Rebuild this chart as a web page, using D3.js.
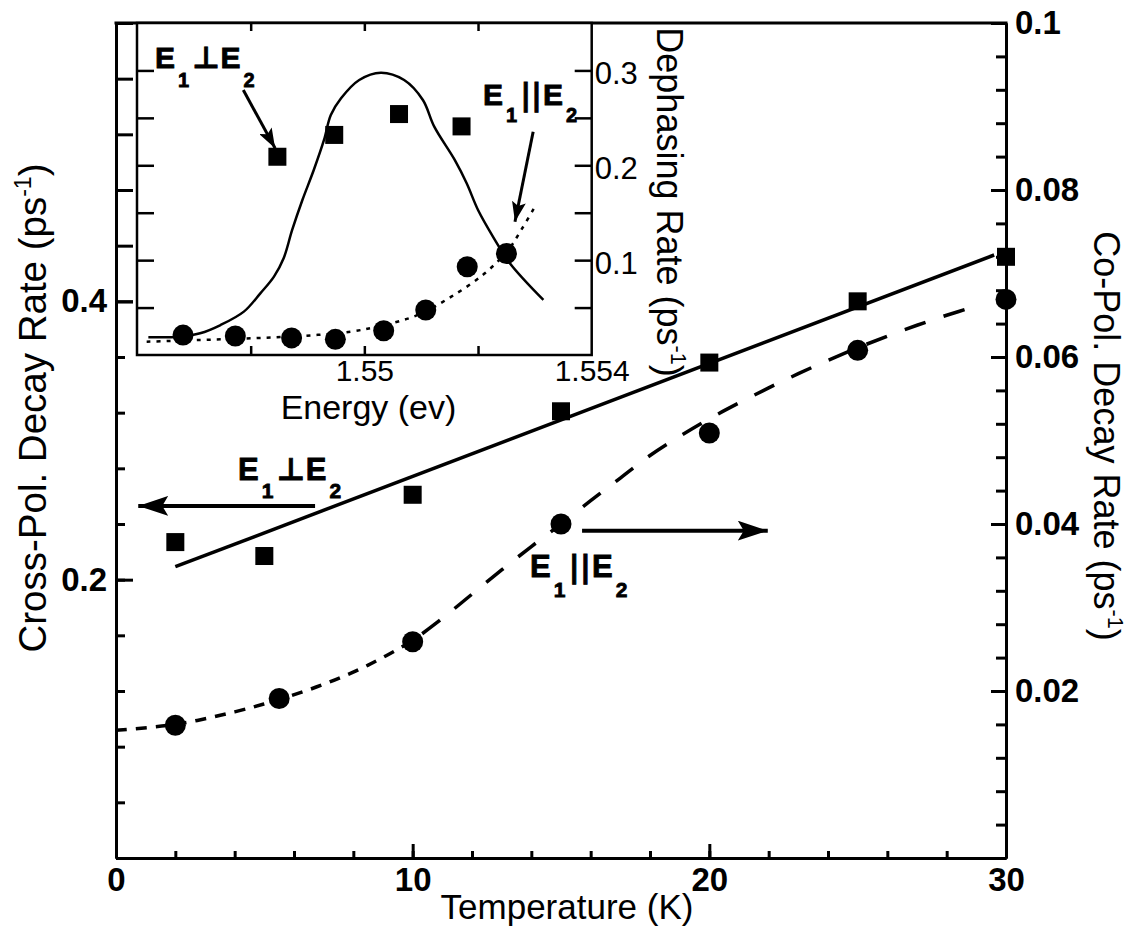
<!DOCTYPE html>
<html><head><meta charset="utf-8">
<script src="https://cdnjs.cloudflare.com/ajax/libs/d3/7.8.5/d3.min.js"></script>
<style>
body{margin:0;background:#fff}
svg{display:block}
text{font-family:"Liberation Sans",Arial,Helvetica,sans-serif;fill:#000}
</style>
</head><body>
<svg id="c" width="1134" height="931"></svg>
<script>
// ---------- main chart data ----------
const crossT = [2, 5, 10, 15, 20, 25, 30];
const crossRate = [0.227, 0.217, 0.261, 0.321, 0.356, 0.400, 0.432];
const coT = [2, 5.5, 10, 15, 20, 25, 30];
const coRate = [0.0159, 0.0191, 0.0259, 0.0400, 0.0509, 0.0608, 0.0669];
const crossFitT = [2, 29.6];
const crossFitRate = [0.2093, 0.4333];
const coFitT = [0, 2, 4, 5.5, 7, 8.5, 10, 11, 12, 13, 14, 15, 16, 17, 18, 19, 20, 21, 22, 23, 24, 25, 26, 27, 28, 29];
const coFitRate = [0.0153, 0.0160, 0.0175, 0.0190, 0.0208, 0.0231, 0.0260, 0.0287, 0.0316, 0.0345, 0.0373, 0.0400, 0.0428, 0.0455, 0.0482, 0.0505, 0.0526, 0.0545, 0.0563, 0.0580, 0.0596, 0.0611, 0.0625, 0.0638, 0.0650, 0.0661];

// ---------- inset data ----------
const insetSqE = [1.54847, 1.54947, 1.55061, 1.55171];
const insetSqRate = [0.209, 0.232, 0.254, 0.241];
const insetCircE = [1.54681, 1.54773, 1.54872, 1.54949, 1.55034, 1.55108, 1.55181, 1.5525];
const insetCircRate = [0.021, 0.020, 0.018, 0.0165, 0.0256, 0.0474, 0.093, 0.107];
const insetSolidE = [1.5462, 1.54676, 1.54711, 1.54747, 1.54788, 1.54817, 1.54841, 1.54858, 1.54873, 1.54891, 1.54911, 1.54929, 1.54941, 1.54959, 1.54991, 1.55029, 1.5507, 1.55103, 1.55123, 1.55159, 1.5518, 1.55200, 1.55227, 1.55256, 1.55315];
const insetSolidRate = [0.0187, 0.0193, 0.0229, 0.0316, 0.0457, 0.065, 0.0826, 0.102, 0.1318, 0.1634, 0.195, 0.2267, 0.253, 0.2706, 0.2899, 0.2976, 0.2899, 0.2688, 0.2407, 0.2056, 0.181, 0.1529, 0.1241, 0.0967, 0.058];
const insetDotE = [1.54617, 1.54711, 1.548, 1.54888, 1.54976, 1.55035, 1.55094, 1.55153, 1.55212, 1.55253, 1.55276, 1.553];
const insetDotRate = [0.014, 0.0158, 0.0176, 0.020, 0.0246, 0.0316, 0.0422, 0.0615, 0.0861, 0.1107, 0.1318, 0.1563];

// ---------- ticks ----------
const xMajor = [0, 10, 20, 30];
const xMinor = d3.range(0, 30.01, 2);
const yLMajor = [0.2, 0.4];
const yLMinor = d3.range(0, 0.601, 0.04);
const yRMajor = [0.02, 0.04, 0.06, 0.08, 0.1];
const yRMinor = d3.range(0, 0.1001, 0.004);
const insetYTicks = d3.range(0.05, 0.35, 0.05);
const insetYLabels = [0.1, 0.2, 0.3];
const insetXTicks = [1.548, 1.55, 1.552];
const insetXLabels = [1.55, 1.554];
const insetXLabelText = ["1.55", "1.554"];

const svg = d3.select("#c");
const x = d3.scaleLinear([0, 30], [116, 1006]);
const yL = d3.scaleLinear([0, 0.6], [858, 23]);
const yR = d3.scaleLinear([0, 0.1], [858, 23]);
const xi = d3.scaleLinear([1.546, 1.554], [137, 591.7]);
const yi = d3.scaleLinear([0, 0.35], [355, 23]);

function styleAxis(g, sw) {
  g.selectAll("path.domain").attr("stroke", "#000").attr("stroke-width", sw);
  g.selectAll(".tick line").attr("stroke", "#000").attr("stroke-width", sw);
  g.selectAll(".tick text").attr("fill", "#000").attr("font-family", null);
}

// arrow markers
const defs = svg.append("defs");
defs.append("marker").attr("id", "ahBig").attr("markerUnits", "userSpaceOnUse")
  .attr("viewBox", "0 0 30 20").attr("refX", 30).attr("refY", 10)
  .attr("markerWidth", 30).attr("markerHeight", 20).attr("orient", "auto")
  .append("path").attr("d", "M0,0 L30,10 L0,20 L6,10 Z").attr("fill", "#000");
defs.append("marker").attr("id", "ahSmall").attr("markerUnits", "userSpaceOnUse")
  .attr("viewBox", "0 0 20 14").attr("refX", 20).attr("refY", 7)
  .attr("markerWidth", 20).attr("markerHeight", 14).attr("orient", "auto")
  .append("path").attr("d", "M0,0 L20,7 L0,14 L4,7 Z").attr("fill", "#000");

// ---------- main axes ----------
const gxMin = svg.append("g").attr("transform", "translate(0,858)")
  .call(d3.axisBottom(x).tickValues(xMinor).tickSizeInner(-7).tickSizeOuter(0).tickFormat(""));
styleAxis(gxMin, 3);
const gxMaj = svg.append("g").attr("transform", "translate(0,858)")
  .call(d3.axisBottom(x).tickValues(xMajor).tickSizeInner(-14).tickSizeOuter(0).tickPadding(10).tickFormat(d3.format("d")));
styleAxis(gxMaj, 3);
gxMaj.selectAll(".tick text").attr("font-size", 33).attr("font-weight", "bold");

const gyLMin = svg.append("g").attr("transform", "translate(116,0)")
  .call(d3.axisLeft(yL).tickValues(yLMinor).tickSizeInner(-9).tickSizeOuter(0).tickFormat(""));
styleAxis(gyLMin, 3);
gyLMin.selectAll(".tick line").attr("x2", d => d > 0.37 ? 17 : 9);
const gyLMaj = svg.append("g").attr("transform", "translate(116,0)")
  .call(d3.axisLeft(yL).tickValues(yLMajor).tickSizeInner(-17).tickSizeOuter(0).tickPadding(9).tickFormat(d3.format(".1f")));
styleAxis(gyLMaj, 3);
gyLMaj.selectAll(".tick text").attr("font-size", 33).attr("font-weight", "bold");

const gyRMin = svg.append("g").attr("transform", "translate(1006,0)")
  .call(d3.axisRight(yR).tickValues(yRMinor).tickSizeInner(-10).tickSizeOuter(0).tickFormat(""));
styleAxis(gyRMin, 3);
const gyRMaj = svg.append("g").attr("transform", "translate(1006,0)")
  .call(d3.axisRight(yR).tickValues(yRMajor).tickSizeInner(-15).tickSizeOuter(0).tickPadding(9).tickFormat(d => d3.format("~g")(+d.toFixed(3))));
styleAxis(gyRMaj, 3);
gyRMaj.selectAll(".tick text").attr("font-size", 33).attr("font-weight", "bold");

// top frame
svg.append("line").attr("x1", x(0) - 1.5).attr("x2", x(30) + 1.5).attr("y1", yL(0.6)).attr("y2", yL(0.6))
  .attr("stroke", "#000").attr("stroke-width", 3);

// axis titles
svg.append("text").attr("x", 567).attr("y", 919).attr("text-anchor", "middle").attr("font-size", 35).text("Temperature (K)");

function titleWithSup(sel, main, fs) {
  sel.append("tspan").text(main + " (ps");
  sel.append("tspan").attr("dy", -fs * 0.4).attr("font-size", fs * 0.6).text("-1");
  sel.append("tspan").attr("dy", fs * 0.4).text(")");
}
const tl = svg.append("text").attr("transform", "translate(46,408) rotate(-90)").attr("text-anchor", "middle").attr("font-size", 38.5);
titleWithSup(tl, "Cross-Pol. Decay Rate", 38.5);
const tr = svg.append("text").attr("transform", "translate(1094,436) rotate(90)").attr("text-anchor", "middle").attr("font-size", 36);
titleWithSup(tr, "Co-Pol. Decay Rate", 36);

// ---------- main data ----------
const line = d3.line().curve(d3.curveCatmullRom.alpha(0.5));
svg.append("path")
  .attr("d", line(crossFitT.map((t, i) => [x(t), yL(crossFitRate[i])])))
  .attr("fill", "none").attr("stroke", "#000").attr("stroke-width", 3.5);

const coPts = coFitT.map((t, i) => [t, coFitRate[i]]);
const coLow = coPts.filter(p => p[0] <= 10);
const coHigh = coPts.filter(p => p[0] >= 10);
svg.append("path")
  .attr("d", line(coLow.map(p => [x(p[0]), yR(p[1])])))
  .attr("fill", "none").attr("stroke", "#000").attr("stroke-width", 3.5).attr("stroke-dasharray", "11,9");
svg.append("path")
  .attr("d", line(coHigh.map(p => [x(p[0]), yR(p[1])])))
  .attr("fill", "none").attr("stroke", "#000").attr("stroke-width", 3.5).attr("stroke-dasharray", "22,19").attr("stroke-dashoffset", -12);

svg.append("g").selectAll("rect").data(crossT).join("rect")
  .attr("x", (t) => x(t) - 9).attr("y", (t, i) => yL(crossRate[i]) - 9)
  .attr("width", 18).attr("height", 18).attr("fill", "#000");
svg.append("g").selectAll("circle").data(coT).join("circle")
  .attr("cx", t => x(t)).attr("cy", (t, i) => yR(coRate[i])).attr("r", 10.5).attr("fill", "#000");

// arrows main
svg.append("line").attr("x1", x(6.71)).attr("x2", x(0.75)).attr("y1", yL(0.253)).attr("y2", yL(0.253))
  .attr("stroke", "#000").attr("stroke-width", 4).attr("marker-end", "url(#ahBig)");
svg.append("line").attr("x1", x(15.71)).attr("x2", x(21.97)).attr("y1", yR(0.0392)).attr("y2", yR(0.0392))
  .attr("stroke", "#000").attr("stroke-width", 4).attr("marker-end", "url(#ahBig)");

function eLabel(px, py, sym, fs, sfs, sdy, symDx) {
  const t = svg.append("text").attr("x", px).attr("y", py).attr("font-weight", "bold").attr("font-size", fs)
    .attr("stroke", "#000").attr("stroke-width", 0.8);
  t.append("tspan").text("E");
  t.append("tspan").attr("dx", 3).attr("dy", sdy).attr("font-size", sfs).text("1");
  t.append("tspan").attr("dx", symDx).attr("dy", -sdy).attr("font-family", "DejaVu Sans").text(sym);
  t.append("tspan").attr("dx", 1).text("E");
  t.append("tspan").attr("dx", 3).attr("dy", sdy).attr("font-size", sfs).text("2");
  return t;
}
eLabel(238, 480, "\u22A5", 31, 21, 18, 3);
eLabel(530, 577, "||", 31, 21, 20, 3);

// ---------- inset ----------
const ins = svg.append("g");
ins.append("rect").attr("x", xi(1.546)).attr("y", yi(0.35)).attr("width", xi(1.554) - xi(1.546)).attr("height", yi(0) - yi(0.35))
  .attr("fill", "#fff").attr("stroke", "#000").attr("stroke-width", 2.5);

const giL = ins.append("g").attr("transform", `translate(${xi(1.546)},0)`)
  .call(d3.axisLeft(yi).tickValues(insetYTicks).tickSizeInner(-17).tickSizeOuter(0).tickFormat(""));
styleAxis(giL, 2.5);
const giR = ins.append("g").attr("transform", `translate(${xi(1.554)},0)`)
  .call(d3.axisRight(yi).tickValues(insetYTicks).tickSizeInner(-17).tickSizeOuter(0).tickFormat(""));
styleAxis(giR, 2.5);
const giRL = ins.append("g").attr("transform", `translate(${xi(1.554)},0)`)
  .call(d3.axisRight(yi).tickValues(insetYLabels).tickSize(0).tickPadding(3).tickFormat(d3.format(".1f")));
styleAxis(giRL, 2.5);
giRL.selectAll(".tick text").attr("font-size", 31).attr("dy", "0.42em");
const giB = ins.append("g").attr("transform", `translate(0,${yi(0)})`)
  .call(d3.axisBottom(xi).tickValues(insetXTicks).tickSizeInner(-9).tickSizeOuter(0).tickFormat(""));
styleAxis(giB, 2.5);
const giBL = ins.append("g").attr("transform", `translate(0,${yi(0)})`)
  .call(d3.axisBottom(xi).tickValues(insetXLabels).tickSize(0).tickPadding(5).tickFormat((d, i) => insetXLabelText[i]));
styleAxis(giBL, 2.5);
giBL.selectAll(".tick text").attr("font-size", 30);
const giT = ins.append("g").attr("transform", `translate(0,${yi(0.35)})`)
  .call(d3.axisTop(xi).tickValues(insetXTicks).tickSizeInner(-8).tickSizeOuter(0).tickFormat(""));
styleAxis(giT, 2.5);
ins.selectAll("path.domain").remove();

ins.append("text").attr("x", 368.5).attr("y", 419).attr("text-anchor", "middle").attr("font-size", 34).text("Energy (ev)");
const td = ins.append("text").attr("transform", "translate(657,202) rotate(90)").attr("text-anchor", "middle").attr("font-size", 36);
titleWithSup(td, "Dephasing Rate", 36);

// inset curves
ins.append("path")
  .attr("d", line(insetSolidE.map((e, i) => [xi(e), yi(insetSolidRate[i])])))
  .attr("fill", "none").attr("stroke", "#000").attr("stroke-width", 2.5);
ins.append("path")
  .attr("d", line(insetDotE.map((e, i) => [xi(e), yi(insetDotRate[i])])))
  .attr("fill", "none").attr("stroke", "#000").attr("stroke-width", 2.5).attr("stroke-dasharray", "4,6");

ins.append("g").selectAll("rect").data(insetSqE).join("rect")
  .attr("x", e => xi(e) - 9).attr("y", (e, i) => yi(insetSqRate[i]) - 9)
  .attr("width", 18).attr("height", 18).attr("fill", "#000");
ins.append("g").selectAll("circle").data(insetCircE).join("circle")
  .attr("cx", e => xi(e)).attr("cy", (e, i) => yi(insetCircRate[i])).attr("r", 10.5).attr("fill", "#000");

ins.append("line").attr("x1", xi(1.54787)).attr("y1", yi(0.2794)).attr("x2", xi(1.54843)).attr("y2", yi(0.2179))
  .attr("stroke", "#000").attr("stroke-width", 3).attr("marker-end", "url(#ahSmall)");
ins.append("line").attr("x1", xi(1.55297)).attr("y1", yi(0.2354)).attr("x2", xi(1.55265)).attr("y2", yi(0.1405))
  .attr("stroke", "#000").attr("stroke-width", 3).attr("marker-end", "url(#ahSmall)");

eLabel(155, 68, "\u22A5", 30, 20, 19, 3);
eLabel(483, 105, "||", 30, 20, 17, 3);
</script>
</body></html>
